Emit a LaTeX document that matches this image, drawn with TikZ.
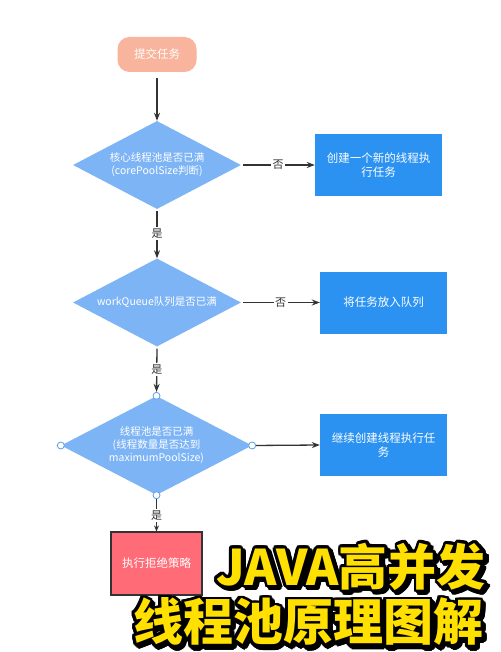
\documentclass[tikz,border=0pt]{standalone}
\usepackage{fontspec}
\setmainfont{Noto Sans CJK SC}
\usetikzlibrary{shapes.geometric,arrows.meta,calc}
\definecolor{startc}{HTML}{F8B49C}
\definecolor{diac}{HTML}{7DB4F5}
\definecolor{boxc}{HTML}{2B92F2}
\definecolor{redc}{HTML}{FF6C78}
\definecolor{linec}{HTML}{333333}
\definecolor{portc}{HTML}{5E9EE8}
\definecolor{titlec}{HTML}{FFE000}
% outlined title text: black shadow + black outline + yellow fill, in one box
\newcommand\outlinedtitle[1]{%
  \leavevmode
  \foreach \a in {0,20,...,340}{%
    \pgfmathsetlengthmacro\odx{2.8*cos(\a)+2.5}%
    \pgfmathsetlengthmacro\ody{2.8*sin(\a)-2.5}%
    \rlap{\kern\odx\raisebox{\ody}{\color{black}#1}}}%
  \foreach \a in {0,20,...,340}{%
    \pgfmathsetlengthmacro\odx{2.8*cos(\a)}%
    \pgfmathsetlengthmacro\ody{2.8*sin(\a)}%
    \rlap{\kern\odx\raisebox{\ody}{\color{black}#1}}}%
  {\color{titlec}#1}}
\begin{document}
\begin{tikzpicture}[x=1pt,y=-1pt,
  startbox/.style={fill=startc, rounded corners=12pt, minimum width=79pt, minimum height=35pt, text=white, font=\fontsize{11.5}{14}\selectfont},
  dia/.style={diamond, aspect=1.9, fill=diac, inner sep=0pt, text=white, align=center, font=\fontsize{10.5}{13}\selectfont},
  blk/.style={fill=boxc, minimum width=127pt, minimum height=62pt, text=white, align=center, font=\fontsize{11.5}{14}\selectfont},
  redbox/.style={fill=redc, draw=linec, line width=1.2pt, minimum width=91pt, minimum height=63pt, text=white, font=\fontsize{11.5}{14}\selectfont},
  port/.style={circle, draw=portc, fill=white, line width=0.8pt, inner sep=0pt, minimum size=7pt},
  arr/.style={draw=linec, line width=1.3pt, -{Stealth[length=8pt,width=6pt]}},
  lbl/.style={fill=white, inner sep=1.5pt, text=linec, font=\fontsize{11}{13}\selectfont},
  tt/.style={inner sep=0pt, font=\fontsize{49}{52}\selectfont\bfseries}
]
\useasboundingbox (0,0) rectangle (500,652);
\fill[white] (0,0) rectangle (500,652);

\node[startbox] (start) at (157,54.5) {提交任务};
\node[dia, minimum width=168pt, minimum height=88pt] (d1) at (157,165) {核心线程池是否已满\\(corePoolSize判断)};
\node[blk] (b1) at (378.5,165) {创建一个新的线程执\\行任务};
\node[dia, minimum width=168pt, minimum height=88pt] (d2) at (157,302.5) {workQueue队列是否已满};
\node[blk] (b2) at (383.5,302.5) {将任务放入队列};
\node[dia, minimum width=191pt, minimum height=99pt] (d3) at (156.5,445.5) {线程池是否已满\\(线程数量是否达到\\maximumPoolSize)};
\node[blk] (b3) at (383.5,445) {继续创建线程执行任\\务};
\node[redbox] (r) at (156.5,563.5) {执行拒绝策略};

\node[port] (c3n) at (d3.north) {};
\node[port] (c3s) at (d3.south) {};
\node[port] (c3e) at (d3.east) {};
\node[port] (c3w) at (d3.west) {};

\draw[arr, shorten <=6pt] (start.south) -- (d1.north);
\draw[arr, shorten <=2pt] (d1.east) -- node[lbl]{否} (b1.west);
\draw[arr, shorten <=2pt] (d1.south) -- node[lbl]{是} (d2.north);
\draw[arr, shorten <=2pt] (d2.east) -- node[lbl]{否} (b2.west);
\draw[arr, shorten <=2pt] (d2.south) -- node[lbl]{是} (c3n);
\draw[arr] (c3e) -- (b3.west);
\draw[arr, -{Stealth[length=6pt,width=5pt]}, line width=1pt] (c3s) -- node[lbl]{是} (r.north);

% title
\node[tt] (title1) at (351,568) {\outlinedtitle{JAVA高并发}};
\node[tt, font=\fontsize{50}{52}\selectfont\bfseries] (title2) at (308,623) {\outlinedtitle{线程池原理图解}};
\end{tikzpicture}
\end{document}
